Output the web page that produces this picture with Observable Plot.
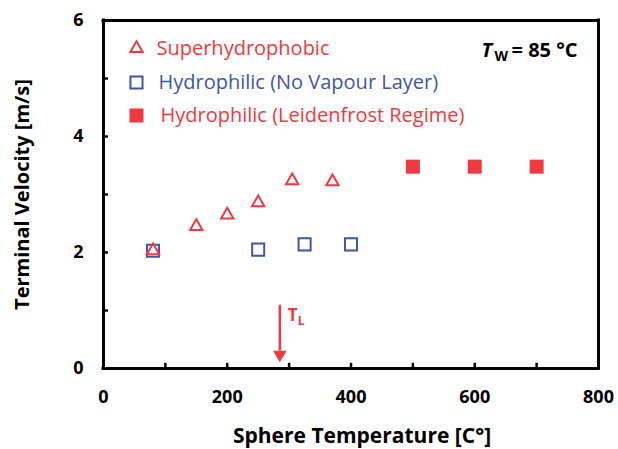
<!DOCTYPE html>
<html><head><meta charset="utf-8">
<script src="https://cdn.jsdelivr.net/npm/d3@7"></script>
<script src="https://cdn.jsdelivr.net/npm/@observablehq/plot@0.6"></script>
<style>body{margin:0;background:#fff} svg{font-family:"Open Sans",sans-serif}</style>
</head><body><div id="chart"></div>
<script>
const superT = [80, 150, 200, 250, 305, 370];
const superV = [2.03, 2.45, 2.65, 2.86, 3.24, 3.22];
const noVapT = [80, 250, 325, 400];
const noVapV = [2.03, 2.05, 2.14, 2.14];
const leidT = [500, 600, 700];
const leidV = [3.48, 3.48, 3.48];
const xTicks = [0, 200, 400, 600, 800];
const xAllTicks = [100, 200, 300, 400, 500, 600, 700];
const yTicks = [0, 2, 4, 6];
const yAllTicks = [1, 2, 3, 4, 5];
const xEdges = [0, 800];
const yEdges = [0, 6];
const legendLabels = ["Superhydrophobic", "Hydrophilic (No Vapour Layer)", "Hydrophilic (Leidenfrost Regime)"];
const xTitle = "Sphere Temperature [C°]";
const yTitle = "Terminal Velocity [m/s]";
const arrowT = [285];
const arrowFrom = 1.09, arrowTo = 0.3, arrowTip = 0.24;

const RED = "#ee3a40", BLUE = "#3f55a8";
const sup = superT.map((t, i) => ({t, v: superV[i]}));
const nov = noVapT.map((t, i) => ({t, v: noVapV[i]}));
const lei = leidT.map((t, i) => ({t, v: leidV[i]}));

const chart = Plot.plot({
  width: 618, height: 449,
  marginLeft: 103, marginRight: 20, marginTop: 20, marginBottom: 81,
  x: {domain: [0, 800]},
  y: {domain: [0, 6]},
  marks: [
    Plot.axisX({ticks: xTicks, tickFormat: d3.format("d"), tickSize: 0, tickPadding: 22, fontSize: 18, fontWeight: "bold", label: null}),
    Plot.axisY({ticks: yTicks, tickFormat: d3.format("d"), tickSize: 0, tickPadding: 20, fontSize: 18, fontWeight: "bold", label: null}),
    Plot.ruleX(xAllTicks, {x: d => d, y1: 0, y2: 0.09, stroke: "black", strokeWidth: 2.5}),
    Plot.ruleY(yAllTicks, {y: d => d, x1: 0, x2: 8, stroke: "black", strokeWidth: 2.5}),
    Plot.ruleX(xEdges, {x: d => d, y1: 0, y2: 6, stroke: "black", strokeWidth: 3, strokeLinecap: "square"}),
    Plot.ruleY(yEdges, {y: d => d, x1: 0, x2: 800, stroke: "black", strokeWidth: 3, strokeLinecap: "square"}),
    Plot.dot(nov, {x: "t", y: "v", symbol: "square", r: 6.8, stroke: BLUE, strokeWidth: 2, fill: "none"}),
    Plot.dot(sup, {x: "t", y: "v", symbol: "triangle", r: 4.6, stroke: RED, strokeWidth: 2, fill: "none"}),
    Plot.dot(lei, {x: "t", y: "v", symbol: "square", r: 7.9, fill: RED, stroke: "none"}),
    Plot.ruleX(arrowT, {x: d => d, y1: arrowFrom, y2: arrowTo, stroke: RED, strokeWidth: 2.5}),
    Plot.dot(arrowT, {x: d => d, y: arrowTip, symbol: "triangle", r: 5, rotate: 180, fill: RED, stroke: "none"}),
    Plot.text(["T"], {x: arrowT[0], y: arrowFrom, dx: 8, dy: 10, text: d => d, textAnchor: "start", fill: RED, fontSize: 17, fontWeight: "bold"}),
    Plot.text(["L"], {x: arrowT[0], y: arrowFrom, dx: 18, dy: 16, text: d => d, textAnchor: "start", fill: RED, fontSize: 12, fontWeight: "bold"}),
    Plot.dot([0], {frameAnchor: "top-left", dx: 33, dy: 28, symbol: "triangle", r: 4.6, stroke: RED, strokeWidth: 2, fill: "none"}),
    Plot.dot([0], {frameAnchor: "top-left", dx: 33, dy: 62, symbol: "square", r: 6.8, stroke: BLUE, strokeWidth: 2, fill: "none"}),
    Plot.dot([0], {frameAnchor: "top-left", dx: 33, dy: 95, symbol: "square", r: 7.9, fill: RED, stroke: "none"}),
    Plot.text([legendLabels[0]], {frameAnchor: "top-left", dx: 53, dy: 28, text: d => d, textAnchor: "start", lineAnchor: "middle", fill: RED, fontSize: 20}),
    Plot.text([legendLabels[1]], {frameAnchor: "top-left", dx: 55, dy: 62, text: d => d, textAnchor: "start", lineAnchor: "middle", fill: BLUE, fontSize: 20}),
    Plot.text([legendLabels[2]], {frameAnchor: "top-left", dx: 57, dy: 95, text: d => d, textAnchor: "start", lineAnchor: "middle", fill: RED, fontSize: 20}),
    Plot.text(["T"], {frameAnchor: "top-left", dx: 378, dy: 30, text: d => d, textAnchor: "start", lineAnchor: "middle", fill: "#000", fontSize: 20, fontWeight: "bold", fontStyle: "italic"}),
    Plot.text(["W"], {frameAnchor: "top-left", dx: 391, dy: 36, text: d => d, textAnchor: "start", lineAnchor: "middle", fill: "#000", fontSize: 14, fontWeight: "bold"}),
    Plot.text(["= 85 °C"], {frameAnchor: "top-left", dx: 408, dy: 30, text: d => d, textAnchor: "start", lineAnchor: "middle", fill: "#000", fontSize: 20, fontWeight: "bold"}),
    Plot.text([xTitle], {frameAnchor: "bottom", dx: 11, dy: 68, text: d => d, textAnchor: "middle", lineAnchor: "middle", fill: "#000", fontSize: 21, fontWeight: "bold"}),
    Plot.text([yTitle], {frameAnchor: "left", dx: -81, dy: 0, rotate: -90, text: d => d, textAnchor: "middle", lineAnchor: "middle", fill: "#000", fontSize: 20, fontWeight: "bold"})
  ]
});
document.getElementById("chart").append(chart);
</script>
</body></html>
